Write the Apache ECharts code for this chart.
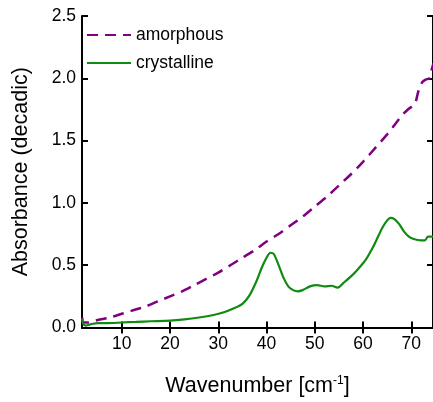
<!DOCTYPE html>
<html>
<head>
<meta charset="utf-8">
<script src="https://cdn.jsdelivr.net/npm/echarts@6/dist/echarts.min.js"></script>
<style>
html,body{margin:0;padding:0;background:#fff;}
#chart{width:433px;height:402px;}
</style>
</head>
<body>
<div id="chart"></div>
<script>
const xTicks = [10, 20, 30, 40, 50, 60, 70];
const yTicks = [0, 0.5, 1.0, 1.5, 2.0, 2.5];
const seriesNames = ['amorphous', 'crystalline'];

const amorphousX = [1.8, 2, 3, 5, 7.5, 10, 12.5, 15, 17.5, 20, 22.5, 25, 27.5, 30, 32.5, 35, 37.5, 40, 42.5, 45, 47.5, 50, 52.5, 55, 57.5, 60, 62.5, 65, 67, 68, 69.3, 70, 70.8, 71.5, 72.3, 73, 73.7, 74.3, 74.6];
const amorphousY = [0.08, 0.04, 0.04, 0.06, 0.08, 0.11, 0.14, 0.17, 0.21, 0.25, 0.29, 0.34, 0.39, 0.44, 0.5, 0.56, 0.62, 0.69, 0.75, 0.82, 0.89, 0.97, 1.05, 1.14, 1.23, 1.33, 1.44, 1.55, 1.65, 1.70, 1.75, 1.77, 1.80, 1.90, 1.97, 1.99, 2.0, 2.08, 2.12];

const crystallineX = [1.8, 2.0, 2.5, 3, 4, 5, 7, 10, 13, 16, 20, 23, 26, 29, 31, 33, 35, 36.5, 38, 39, 40, 40.8, 41.5, 42.5, 43.5, 44.5, 45.5, 46.5, 47.5, 49, 50.5, 52, 53.5, 54.7, 56, 57.5, 59, 60.5, 62, 63, 64, 65, 65.7, 66.5, 67.5, 68.5, 69.5, 70.5, 72, 72.8, 73.5, 74.6];
const crystallineY = [0.07, 0.03, 0.015, 0.02, 0.03, 0.035, 0.035, 0.04, 0.045, 0.05, 0.055, 0.065, 0.08, 0.1, 0.12, 0.15, 0.19, 0.26, 0.38, 0.48, 0.56, 0.6, 0.59, 0.5, 0.4, 0.33, 0.3, 0.29, 0.3, 0.33, 0.34, 0.33, 0.335, 0.32, 0.36, 0.41, 0.47, 0.54, 0.64, 0.72, 0.8, 0.86, 0.88, 0.87, 0.83, 0.77, 0.73, 0.71, 0.7, 0.7, 0.73, 0.73];

const toPairs = (xs, ys) => xs.map((x, i) => [x, ys[i]]);

const FONT = '"Liberation Sans", Arial, sans-serif';
const XMIN = 1.75, XMAX = 74.5, YMIN = 0, YMAX = 2.5;
const TICK_FS = 17.5, TITLE_FS = 21.5;

const chart = echarts.init(document.getElementById('chart'));
const tickStyle = { show: true, inside: true, length: 6, lineStyle: { color: '#000', width: 2 } };
const axisCommon = {
  axisLine: { show: true, lineStyle: { color: '#000', width: 2 } },
  splitLine: { show: false },
  minorTick: { show: false }
};
chart.setOption({
  animation: false,
  backgroundColor: '#fff',
  grid: { left: 82, right: -2, top: 16, bottom: 70, containLabel: false },
  legend: {
    orient: 'vertical',
    left: 86,
    top: 26,
    padding: 0,
    itemWidth: 44,
    itemHeight: 14,
    itemGap: 10,
    itemStyle: { opacity: 0 },
    textStyle: { fontFamily: FONT, fontSize: TICK_FS, color: '#000', lineHeight: 14 },
    data: seriesNames,
    selectedMode: false
  },
  xAxis: [
    Object.assign({}, axisCommon, {
      type: 'value', position: 'bottom', min: XMIN, max: XMAX,
      name: 'Wavenumber [cm{sup|-1}]',
      nameLocation: 'middle', nameGap: 47,
      nameTextStyle: {
        fontFamily: FONT, fontSize: TITLE_FS, color: '#000',
        rich: { sup: { fontFamily: FONT, fontSize: 12, verticalAlign: 'top', padding: [0, 0, 11, 0], color: '#000' } }
      },
      axisTick: Object.assign({}, tickStyle, { customValues: xTicks }),
      axisLabel: { fontFamily: FONT, fontSize: TICK_FS, color: '#000', margin: 8, customValues: xTicks }
    }),
    Object.assign({}, axisCommon, {
      type: 'value', position: 'top', min: XMIN, max: XMAX,
      axisTick: Object.assign({}, tickStyle, { customValues: xTicks }),
      axisLabel: { show: false }
    })
  ],
  yAxis: [
    Object.assign({}, axisCommon, {
      type: 'value', position: 'left', min: YMIN, max: YMAX, interval: 0.5,
      name: 'Absorbance (decadic)', nameLocation: 'middle', nameGap: 50,
      nameTextStyle: { fontFamily: FONT, fontSize: TITLE_FS, color: '#000' },
      axisTick: tickStyle,
      axisLabel: {
        fontFamily: FONT, fontSize: TICK_FS, color: '#000', margin: 6,
        verticalAlign: 'middle', verticalAlignMinLabel: 'middle', verticalAlignMaxLabel: 'middle',
        formatter: v => v.toFixed(1)
      }
    }),
    Object.assign({}, axisCommon, {
      type: 'value', position: 'right', min: YMIN, max: YMAX, interval: 0.5,
      axisTick: tickStyle,
      axisLabel: { show: false }
    })
  ],
  series: [
    {
      name: seriesNames[0], type: 'line', xAxisIndex: 0, yAxisIndex: 0,
      data: toPairs(amorphousX, amorphousY),
      showSymbol: false, symbol: 'none', smooth: 0.3,
      lineStyle: { color: '#800080', width: 2.5, type: [11, 7] },
      itemStyle: { color: '#800080' }
    },
    {
      name: seriesNames[1], type: 'line', xAxisIndex: 0, yAxisIndex: 0,
      data: toPairs(crystallineX, crystallineY),
      showSymbol: false, symbol: 'none', smooth: 0.3,
      lineStyle: { color: '#108a10', width: 2.2 },
      itemStyle: { color: '#108a10' }
    }
  ]
});
</script>
</body>
</html>
